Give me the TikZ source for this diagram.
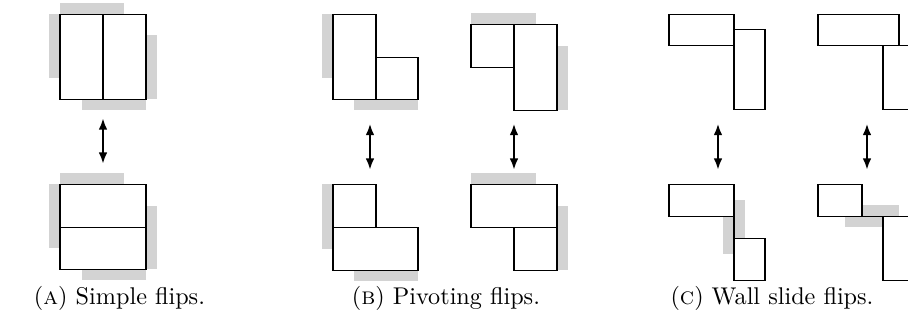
\documentclass[tikz,border=0pt]{standalone}
\usetikzlibrary{arrows.meta}
\definecolor{wallshade}{RGB}{211,211,211}
\tikzset{
  room/.style={draw=black, fill=white, line width=0.42pt},
  wallshadow/.style={draw=wallshade, line width=8.7pt, line cap=butt},
  wallline/.style={draw=black, line width=0.42pt},
  fliparrow/.style={{Latex[length=4.8pt,width=3.6pt]}-{Latex[length=4.8pt,width=3.6pt]}, line width=1.05pt},
  caption/.style={anchor=base, inner sep=0pt, font=\normalsize}
}
\begin{document}
\begin{tikzpicture}[x=0.413pt,y=-0.413pt]
\useasboundingbox (0,0) rectangle (908,328);
\begin{scope}
\clip (0,0) rectangle (908,328);

% ---------- (a) simple flips ----------
% upper state: two tall rooms
\draw[wallshadow] (60,14) -- (124,14);
\draw[wallshadow] (60,14) -- (60,78);
\draw[wallshadow] (146,99) -- (146,35);
\draw[wallshadow] (146,99) -- (82,99);
\draw[room] (60,14) rectangle (103,99);
\draw[room] (103,14) rectangle (146,99);
% lower state: two wide rooms
\draw[wallshadow] (60,184) -- (124,184);
\draw[wallshadow] (60,184) -- (60,248);
\draw[wallshadow] (146,269) -- (146,206);
\draw[wallshadow] (146,269) -- (82,269);
\draw[room] (60,184) rectangle (146,227);
\draw[room] (60,227) rectangle (146,269);
\coordinate (a1) at (103,118);
\coordinate (a2) at (103,164);
\draw[fliparrow] (a1) -- (a2);

% ---------- (b) pivoting flips ----------
% left pair
\draw[wallshadow] (333,14) -- (333,78);
\draw[wallshadow] (418,99) -- (354,99);
\draw[room] (333,14) rectangle (376,99);
\draw[room] (376,57) rectangle (418,99);
\draw[wallshadow] (333,184) -- (333,249);
\draw[wallshadow] (418,270) -- (354,270);
\draw[room] (333,184) rectangle (376,227);
\draw[room] (333,227) rectangle (418,270);
\coordinate (b1) at (370,123.5);
\coordinate (b2) at (370,170);
\draw[fliparrow] (b1) -- (b2);
% right pair
\draw[wallshadow] (471,24) -- (536,24);
\draw[wallshadow] (557,110) -- (557,46);
\draw[room] (471,24) rectangle (514,67);
\draw[room] (514,24) rectangle (557,110);
\draw[wallshadow] (471,184) -- (536,184);
\draw[wallshadow] (557,270) -- (557,206);
\draw[room] (471,184) rectangle (557,227);
\draw[room] (514,227) rectangle (557,270);
\coordinate (b3) at (514,123.5);
\coordinate (b4) at (514,170);
\draw[fliparrow] (b3) -- (b4);

% ---------- (c) wall slide flips ----------
% left pair
\draw[room] (669,14) rectangle (734,45);
\draw[room] (734,29) rectangle (765,109);
\draw[wallshadow] (734,200) -- (734,254);
\draw[room] (669,184) rectangle (734,216);
\draw[room] (734,238) rectangle (765,280);
\draw[wallline] (734,216) -- (734,238);
\coordinate (c1) at (718,123.5);
\coordinate (c2) at (718,170);
\draw[fliparrow] (c1) -- (c2);
% right pair
\draw[room] (818,14) rectangle (899,45);
\draw[room] (883,45) rectangle (915,109);
\draw[wallshadow] (845,216) -- (899,216);
\draw[room] (818,184) rectangle (862,216);
\draw[room] (883,216) rectangle (915,280);
\draw[wallline] (862,216) -- (883,216);
\coordinate (c3) at (867,123.5);
\coordinate (c4) at (867,170);
\draw[fliparrow] (c3) -- (c4);
\end{scope}

% ---------- captions ----------
\node[caption] (capa) at (119.5,304) {(\textsc{a}) Simple flips.};
\node[caption] (capb) at (446,304) {(\textsc{b}) Pivoting flips.};
\node[caption] (capc) at (772,304) {(\textsc{c}) Wall slide flips.};
\end{tikzpicture}
\end{document}
